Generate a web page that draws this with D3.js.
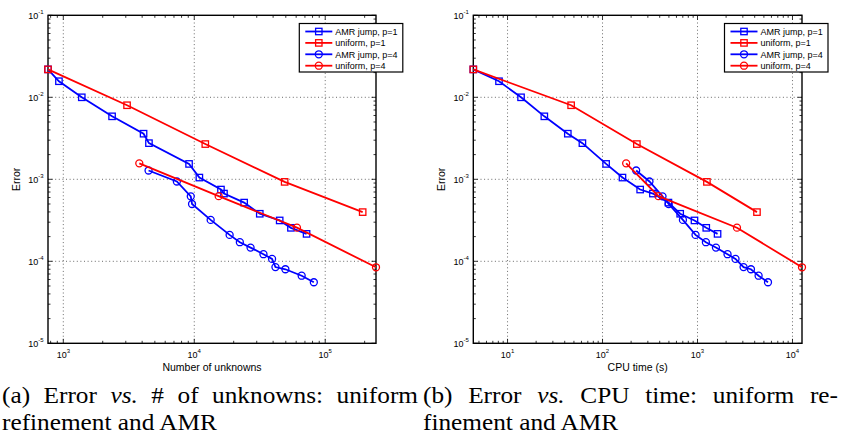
<!DOCTYPE html>
<html>
<head>
<meta charset="utf-8">
<script src="https://cdn.jsdelivr.net/npm/d3@7"></script>
<style>
  body { margin: 0; background: #fff; }
  svg text { font-family: "Liberation Sans", Arial, sans-serif; fill: #000; }
  svg text.cap { font-family: "Liberation Serif", "Times New Roman", serif; font-size: 23px; }
</style>
</head>
<body>
<div id="chart"></div>
<script>
// ---- data (errors are shared by both panels) ----
const unkAmr1 = [764, 926, 1384, 2357, 4101, 4508, 9125, 10940, 15990, 16870, 24040, 31640, 44900, 54730, 72050];
const cpuAmr1 = [4.36, 8.13, 13.87, 24.4, 43.1, 61.4, 109.1, 162.2, 249, 339, 494, 657, 929, 1236, 1626];
const errAmr1 = [0.0219, 0.0157, 0.0100, 0.00586, 0.0036, 0.00276, 0.00154, 0.00105, 0.00075, 0.00067, 0.00052, 0.00038, 0.000315, 0.000256, 0.000216];

const unkUni1 = [764, 3067, 12140, 49000, 193200];
const cpuUni1 = [4.36, 46.7, 229.8, 1256, 4227];
const errUni1 = [0.0219, 0.0080, 0.00269, 0.00093, 0.000398];

const unkAmr4 = [4477, 7362, 9403, 9616, 13340, 18620, 22290, 26900, 33760, 39270, 41670, 49640, 66070, 81850];
const cpuAmr4 = [226, 312, 428, 497, 702, 953, 1225, 1563, 2070, 2512, 3053, 3653, 4396, 5521];
const errAmr4 = [0.00128, 0.00094, 0.00062, 0.0005, 0.00032, 0.00021, 0.000171, 0.000147, 0.000122, 0.000107, 0.000085, 0.00008, 0.0000667, 0.0000555];

const unkUni4 = [3804, 15360, 60830, 244200];
const cpuUni4 = [177.3, 388, 2602, 12590];
const errUni4 = [0.001566, 0.000623, 0.000257, 0.0000845];

const seriesNames = ["AMR jump, p=1", "uniform, p=1", "AMR jump, p=4", "uniform, p=4"];
const yDecades = [-5, -4, -3, -2, -1];

const captionA1 = [["(a)"], ["Error"], ["vs.", true], ["#"], ["of"], ["unknowns:"], ["uniform"]];
const captionA2 = "refinement and AMR";
const captionB1 = [["(b)"], ["Error"], ["vs.", true], ["CPU"], ["time:"], ["uniform"], ["re-"]];
const captionB2 = "finement and AMR";

const series = [
  { name: seriesNames[0], color: "#0000ff", marker: "square", err: errAmr1, unk: unkAmr1, cpu: cpuAmr1 },
  { name: seriesNames[1], color: "#ff0000", marker: "square", err: errUni1, unk: unkUni1, cpu: cpuUni1 },
  { name: seriesNames[2], color: "#0000ff", marker: "circle", err: errAmr4, unk: unkAmr4, cpu: cpuAmr4 },
  { name: seriesNames[3], color: "#ff0000", marker: "circle", err: errUni4, unk: unkUni4, cpu: cpuUni4 }
];

const svg = d3.select("#chart").append("svg").attr("width", 841).attr("height", 445);

const plotTop = 15.3, plotBottom = 343.3;
const yScale = d3.scaleLog().domain([1e-5, 1e-1]).range([plotBottom, plotTop]);

// draws a marker (hollow square or circle) at cx, cy
function drawMarker(g, type, cx, cy, color) {
  if (type === "square") {
    g.append("rect")
      .attr("x", cx - 3.2).attr("y", cy - 3.2)
      .attr("width", 6.4).attr("height", 6.4)
      .attr("fill", "none").attr("stroke", color).attr("stroke-width", 1.3);
  } else {
    g.append("circle")
      .attr("cx", cx).attr("cy", cy).attr("r", 3.5)
      .attr("fill", "none").attr("stroke", color).attr("stroke-width", 1.3);
  }
}

/**
 * one loglog panel in the matlab style
 */
function plotPanel(xKey, x0, x1, xLabel, errorLabelX, legendX) {
  const xValues = series.flatMap((s) => s[xKey]);
  const xScale = d3.scaleLog().domain(d3.extent(xValues)).range([x0, x1]);
  const g = svg.append("g");

  const allXTicks = xScale.ticks().filter((v) => v >= xScale.domain()[0] && v <= xScale.domain()[1]);
  const isMajor = (v) => Math.abs(Math.log10(v) - Math.round(Math.log10(v))) < 1e-9;
  const xMajor = allXTicks.filter(isMajor);
  const yAll = yScale.ticks();
  const yMajor = yAll.filter(isMajor);

  // dotted grid
  xMajor.forEach((v) => {
    g.append("line")
      .attr("x1", xScale(v)).attr("x2", xScale(v))
      .attr("y1", plotTop).attr("y2", plotBottom)
      .attr("stroke", "#444").attr("stroke-width", 0.8).attr("stroke-dasharray", "1,2.6");
  });
  yMajor.filter((v) => v > 1e-5 && v < 1e-1).forEach((v) => {
    g.append("line")
      .attr("x1", x0).attr("x2", x1)
      .attr("y1", yScale(v)).attr("y2", yScale(v))
      .attr("stroke", "#444").attr("stroke-width", 0.8).attr("stroke-dasharray", "1,2.6");
  });

  // ticks on all four sides, pointing inwards
  allXTicks.forEach((v) => {
    const len = isMajor(v) ? 4.5 : 2.5;
    const x = xScale(v);
    g.append("line").attr("x1", x).attr("x2", x).attr("y1", plotBottom).attr("y2", plotBottom - len)
      .attr("stroke", "#000").attr("stroke-width", 0.8);
    g.append("line").attr("x1", x).attr("x2", x).attr("y1", plotTop).attr("y2", plotTop + len)
      .attr("stroke", "#000").attr("stroke-width", 0.8);
  });
  yAll.forEach((v) => {
    const len = isMajor(v) ? 4.5 : 2.5;
    const y = yScale(v);
    g.append("line").attr("x1", x0).attr("x2", x0 + len).attr("y1", y).attr("y2", y)
      .attr("stroke", "#000").attr("stroke-width", 0.8);
    g.append("line").attr("x1", x1).attr("x2", x1 - len).attr("y1", y).attr("y2", y)
      .attr("stroke", "#000").attr("stroke-width", 0.8);
  });

  // box
  g.append("rect")
    .attr("x", x0).attr("y", plotTop)
    .attr("width", x1 - x0).attr("height", plotBottom - plotTop)
    .attr("fill", "none").attr("stroke", "#000").attr("stroke-width", 1.4);

  // tick labels: 10 with superscript exponent
  xMajor.forEach((v) => {
    const t = g.append("text")
      .attr("x", xScale(v)).attr("y", 357.5)
      .attr("text-anchor", "middle").attr("font-size", 9);
    t.append("tspan").text("10");
    t.append("tspan").attr("dy", -4.5).attr("font-size", 6).text(Math.round(Math.log10(v)));
  });
  yDecades.forEach((e) => {
    const t = g.append("text")
      .attr("x", x0 - 4.5).attr("y", yScale(Math.pow(10, e)) + 3.3)
      .attr("text-anchor", "end").attr("font-size", 9);
    t.append("tspan").text("10");
    t.append("tspan").attr("dy", -4.5).attr("font-size", 6).text(e);
  });

  // axis labels
  g.append("text")
    .attr("x", (x0 + x1) / 2).attr("y", 371)
    .attr("text-anchor", "middle").attr("font-size", 10.5)
    .text(xLabel);
  g.append("text")
    .attr("transform", "translate(" + errorLabelX + "," + (plotTop + plotBottom) / 2 + ") rotate(-90)")
    .attr("text-anchor", "middle").attr("font-size", 10.5)
    .text("Error");

  // data lines + markers
  const line = d3.line().x((d) => xScale(d[0])).y((d) => yScale(d[1]));
  series.forEach((s) => {
    const pts = s[xKey].map((v, i) => [v, s.err[i]]);
    g.append("path")
      .datum(pts)
      .attr("d", line)
      .attr("fill", "none")
      .attr("stroke", s.color)
      .attr("stroke-width", 1.8);
    pts.forEach((p) => drawMarker(g, s.marker, xScale(p[0]), yScale(p[1]), s.color));
  });

  // legend
  const lg = g.append("g").attr("transform", "translate(" + legendX + ",23.5)");
  lg.append("rect")
    .attr("width", 103.5).attr("height", 48.5)
    .attr("fill", "#fff").attr("stroke", "#000").attr("stroke-width", 1.2);
  series.forEach((s, i) => {
    const y = 8 + i * 11.4;
    lg.append("line").attr("x1", 6).attr("x2", 33).attr("y1", y).attr("y2", y)
      .attr("stroke", s.color).attr("stroke-width", 1.8);
    drawMarker(lg, s.marker, 19.5, y, s.color);
    lg.append("text").attr("x", 36).attr("y", y + 3.2).attr("font-size", 9).text(s.name);
  });
}

plotPanel("unk", 48, 376, "Number of unknowns", 20, 299.3);
plotPanel("cpu", 473.3, 802, "CPU time (s)", 445, 724.5);

// ---- captions (justified first line, like the LaTeX subcaption) ----
const capScale = 1.1;
function drawCaption(x, words, target, rest) {
  const g1 = svg.append("g").attr("transform", "translate(" + x + ",403) scale(" + capScale + ",1)");
  const nodes = words.map((w) =>
    g1.append("text").attr("class", "cap").style("font-style", w[1] ? "italic" : null).text(w[0])
  );
  const widths = nodes.map((n) => n.node().getComputedTextLength());
  const gap = (target / capScale - d3.sum(widths)) / (words.length - 1);
  let cx = 0;
  nodes.forEach((n, i) => {
    n.attr("x", cx);
    cx += widths[i] + gap;
  });
  svg.append("g").attr("transform", "translate(" + x + ",430) scale(" + capScale + ",1)")
    .append("text").attr("class", "cap").text(rest);
}
drawCaption(2, captionA1, 416, captionA2);
drawCaption(423, captionB1, 415, captionB2);
</script>
</body>
</html>
